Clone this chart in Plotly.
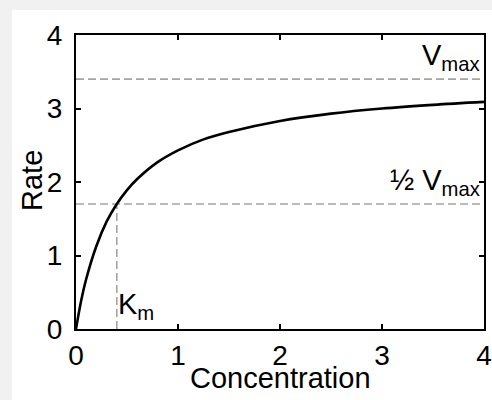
import plotly.graph_objects as go

# Data
conc = [0, 0.05, 0.1, 0.2, 0.3, 0.4, 0.5, 0.6, 0.8, 1.0, 1.25, 1.5, 2.0, 2.5, 3.0, 3.5, 4.0]
rate = [0, 0.38, 0.68, 1.13, 1.46, 1.70, 1.89, 2.04, 2.27, 2.43, 2.58, 2.68, 2.83, 2.93, 3.00, 3.05, 3.09]
vmax = 3.4
half_vmax = 1.7
km = 0.4
x_range = [0, 4]
y_range = [0, 4]
tick_vals = [0, 1, 2, 3, 4]

FONT = "Arial, Liberation Sans, Helvetica, sans-serif"
DASH_COLOR = "#a8a2a0"

fig = go.Figure()

# dashed guide lines
for xs, ys in (([x_range[0], x_range[1]], [vmax, vmax]),
               ([x_range[0], x_range[1]], [half_vmax, half_vmax]),
               ([km, km], [0, half_vmax])):
    fig.add_trace(go.Scatter(x=xs, y=ys, mode="lines",
                             line=dict(color=DASH_COLOR, width=1.6, dash="8px,4px"),
                             hoverinfo="skip", showlegend=False))

# Michaelis-Menten curve
fig.add_trace(go.Scatter(x=conc, y=rate, mode="lines",
                         line=dict(color="black", width=2.6, shape="spline"),
                         showlegend=False))

W, H = 492, 400
L, R, T, B = 76, 8, 35, 71
pw, ph = W - L - R, H - T - B
def px(x):
    return (x - L) / pw
def py(y):
    return (H - B - y) / ph

# faint decoration strips outside the white panel
fig.add_shape(type="rect", xref="paper", yref="paper", x0=px(0), x1=px(12), y0=py(400), y1=py(0),
              fillcolor="#f1f1f1", line_width=0, layer="below")
fig.add_shape(type="rect", xref="paper", yref="paper", x0=px(0), x1=px(492), y0=py(10), y1=py(0),
              fillcolor="#f1f1f1", line_width=0, layer="below")

# axis titles as annotations for exact placement
fig.add_annotation(x=px(280), y=py(378), xref="paper", yref="paper", text="Concentration",
                   showarrow=False, xanchor="center", yanchor="middle",
                   font=dict(family=FONT, size=29, color="black"))
fig.add_annotation(x=px(32), y=py(181), xref="paper", yref="paper", text="Rate", textangle=-90,
                   showarrow=False, xanchor="center", yanchor="middle",
                   font=dict(family=FONT, size=29, color="black"))

annots = [
    dict(x=x_range[1], y=vmax, text="V<sub>max</sub>", xanchor="right", yanchor="bottom",
         xshift=-2, yshift=2),
    dict(x=x_range[1], y=half_vmax, text="½ V<sub>max</sub>", xanchor="right", yanchor="bottom",
         xshift=-2, yshift=2),
    dict(x=km, y=0, text="K<sub>m</sub>", xanchor="left", yanchor="bottom", xshift=-1, yshift=3),
]
for a in annots:
    fig.add_annotation(showarrow=False, font=dict(family=FONT, size=29, color="black"), **a)

axis_common = dict(
    showgrid=False, zeroline=False, showline=True, linecolor="black", linewidth=2,
    mirror="ticks", ticks="inside", ticklen=5, tickwidth=2, tickcolor="black",
    tickfont=dict(family=FONT, size=28, color="black"),
    tickvals=tick_vals, automargin=False,
)

fig.update_layout(
    width=W, height=H,
    margin=dict(l=L, r=R, t=T, b=B, autoexpand=False),
    paper_bgcolor="white", plot_bgcolor="white",
    xaxis=dict(range=x_range, ticklabelstandoff=0, **axis_common),
    yaxis=dict(range=y_range, ticklabelstandoff=6, **axis_common),
)

fig.write_html("out.html", config={"displayModeBar": False},
               post_script="document.body.style.margin='0px';document.body.style.overflow='hidden';"
                           "document.documentElement.style.overflow='hidden';")
